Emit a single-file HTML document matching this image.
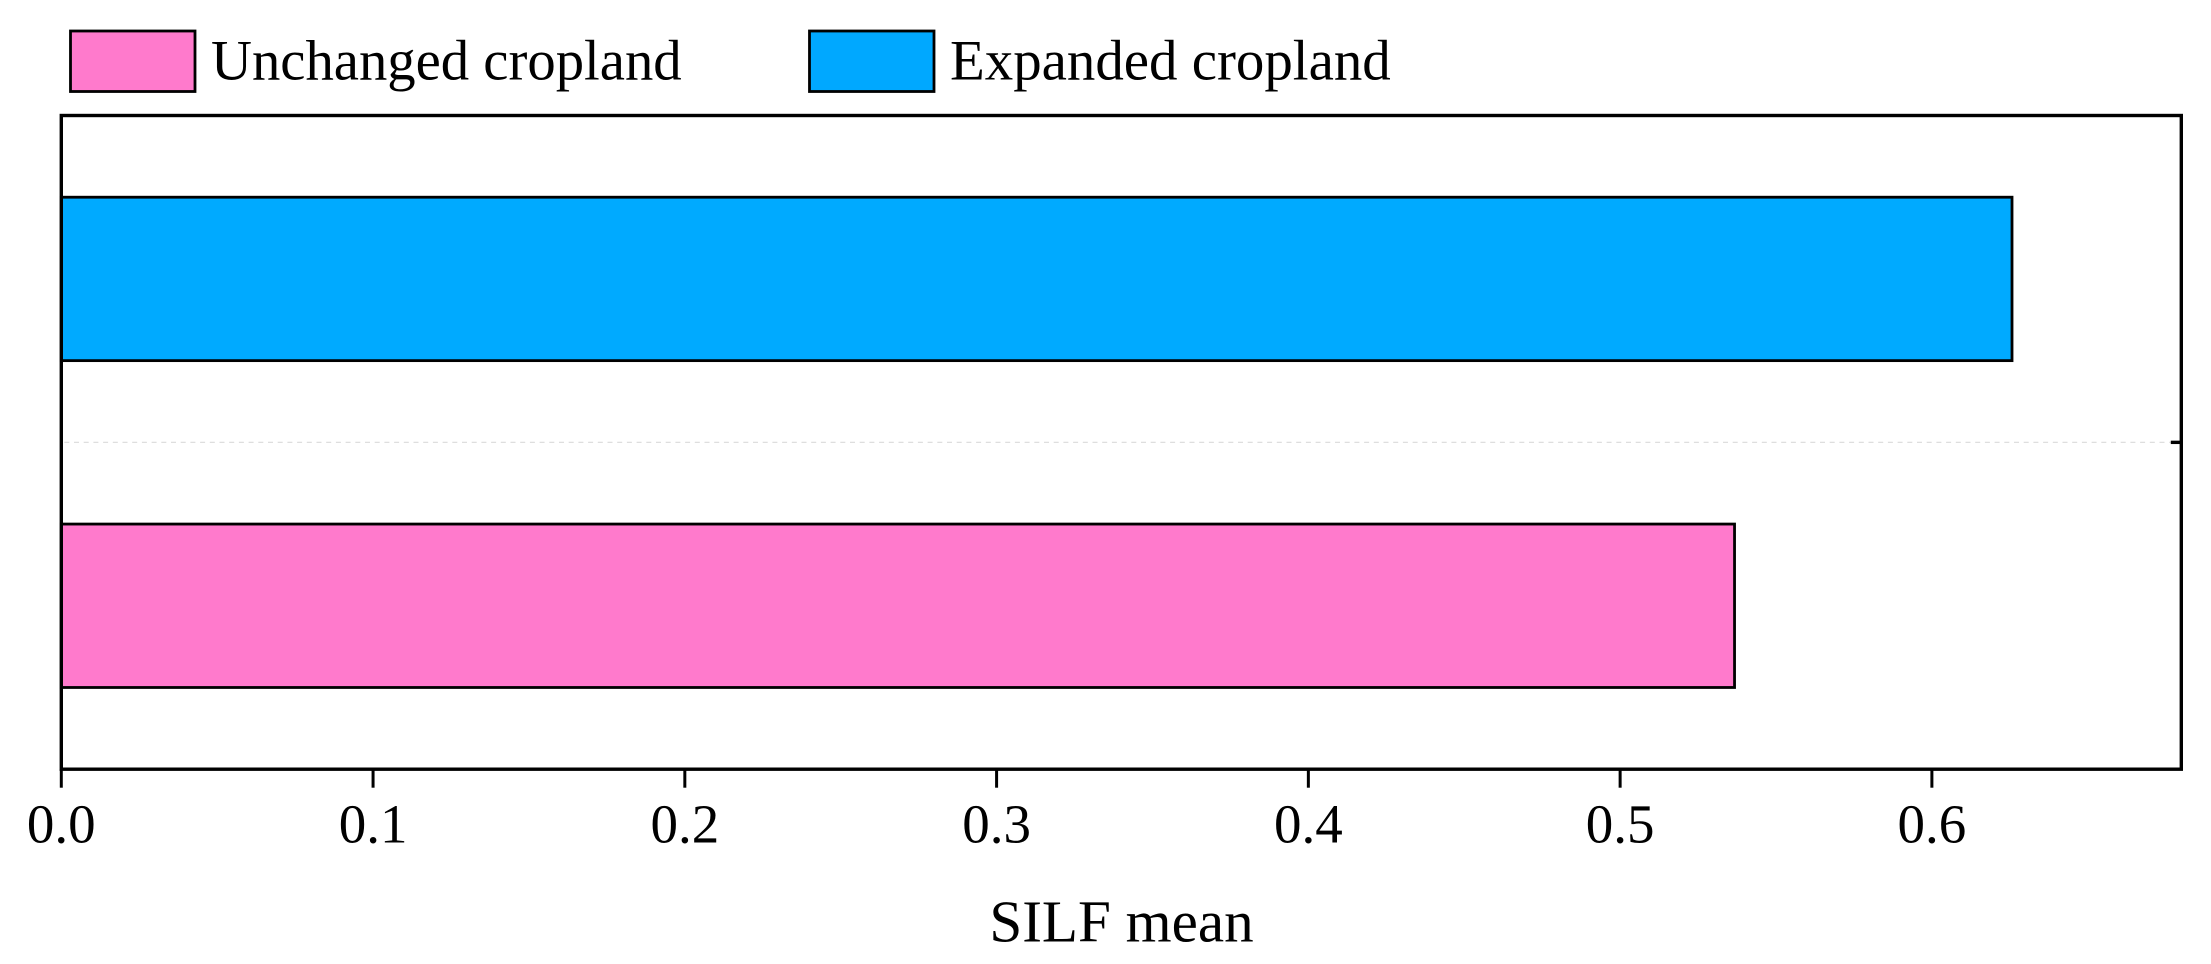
<!DOCTYPE html>
<html lang="en">
<head>
<meta charset="utf-8">
<title>SILF mean by cropland type</title>
<style>
html,body{margin:0;padding:0;background:#fff;width:2211px;height:964px;overflow:hidden}
svg{display:block}
text{font-family:"Liberation Serif",serif;fill:#000}
</style>
</head>
<body>
<svg id="chart" xmlns="http://www.w3.org/2000/svg" width="2211" height="964" viewBox="0 0 2211 964">
  <rect x="0" y="0" width="2211" height="964" fill="#fff"/>
  <g>
    <rect x="70.5" y="31" width="124.5" height="60.5" fill="#FF7ACC" stroke="#000" stroke-width="2.8"/>
    <text x="211" y="79.3" font-size="56.7">Unchanged cropland</text>
    <rect x="809.5" y="31" width="124.5" height="60.5" fill="#00A8FF" stroke="#000" stroke-width="2.8"/>
    <text x="950" y="79.3" font-size="56.9">Expanded cropland</text>
  </g>
  <g id="plot"></g>
  <text x="1121.5" y="941.5" font-size="59.1" text-anchor="middle">SILF mean</text>
</svg>
<script>
const categories = ['Unchanged cropland', 'Expanded cropland'];
const seriesValues = [0.5367, 0.6257];
const seriesColors = ['#FF7ACC', '#00AAFF'];
const tickValues = [0, 0.1, 0.2, 0.3, 0.4, 0.5, 0.6];
const tickLabels = ['0.0', '0.1', '0.2', '0.3', '0.4', '0.5', '0.6'];
const xMax = 0.68;

const NS = 'http://www.w3.org/2000/svg';
const plot = document.getElementById('plot');
const left = 61.3, right = 2181.3, top_ = 115.5, bottom = 769.2;
const bandH = (bottom - top_) / categories.length;
const barH = bandH * 0.5;
function xScale(v) { return left + (v / xMax) * (right - left); }
function yCenter(i) { return bottom - bandH * (i + 0.5); }
function make(tag, attrs) {
  const el = document.createElementNS(NS, tag);
  for (const k in attrs) el.setAttribute(k, attrs[k]);
  plot.appendChild(el);
  return el;
}

// separator between category bands
const sep = make('line', {x1: left + 3, x2: right - 3, y1: top_ + bandH, y2: top_ + bandH, stroke: '#dedede', 'stroke-width': 1.2, 'stroke-dasharray': '5 4.7'});



// bars
categories.forEach(function (c, i) {
  const cy = yCenter(i);
  const bar = make('rect', {x: left, y: cy - barH / 2, width: xScale(seriesValues[i]) - left, height: barH, fill: seriesColors[i], stroke: '#000', 'stroke-width': 2.8});
  
  
});

// frame
const frame = make('rect', {x: left, y: top_, width: right - left, height: bottom - top_, fill: 'none', stroke: '#000', 'stroke-width': 3.4});



// right-side tick at the band boundary
const rt = make('line', {x1: right - 10.5, x2: right, y1: top_ + bandH, y2: top_ + bandH, stroke: '#000', 'stroke-width': 3.4});



// x ticks and labels
tickValues.forEach(function (v, i) {
  const x = xScale(v);
  const t = make('line', {x1: x, x2: x, y1: bottom, y2: bottom + 18.5, stroke: '#000', 'stroke-width': 3});
  
  
  const l = make('text', {x: x, y: 842.7, 'font-size': 55, 'text-anchor': 'middle'});
  
  
  l.textContent = tickLabels[i];
});
</script>
</body>
</html>
